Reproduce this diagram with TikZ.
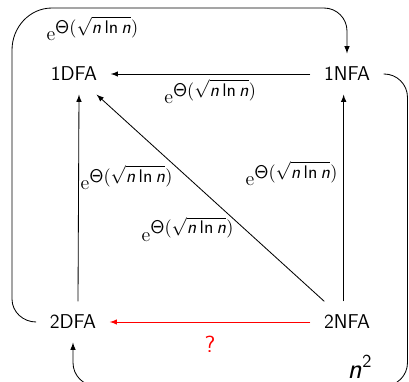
\documentclass[tikz,border=0pt]{standalone}
\DeclareMathAlphabet{\mathsfit}{OT1}{cmss}{m}{sl}
\newcommand{\expbound}{$\mathrm{e}^{\mbox{\fontsize{11}{13}\selectfont$\mathsf{\Theta}(\sqrt{\mathsfit{n}\,\mathsf{ln}\,\mathsfit{n}})$}}$}

\begin{document}
\begin{tikzpicture}[
  x=0.6pt, y=-0.6pt,
  every node/.style={inner sep=1pt, font=\sffamily\fontsize{12}{14}\selectfont},
  auto/.style={inner sep=8pt},
  arrow/.style={draw, line width=0.5pt, -latex},
  redarrow/.style={draw, line width=0.5pt, -latex, red},
  loop/.style={draw, line width=0.5pt, rounded corners=14pt}]

  \useasboundingbox (0,0) rectangle (409,382);

  % ---- automata -----------------------------------------------------------
  \node[auto] (dfa1) at (74,74)  {1DFA};
  \node[auto] (nfa1) at (347,74) {1NFA};
  \node[auto] (dfa2) at (73,322) {2DFA};
  \node[auto] (nfa2) at (347,322) {2NFA};

  % outer frame (the bottom line runs just under the page)
  \coordinate (east)   at (407.5,0);
  \coordinate (bottom) at (0,386);
  % bends of the upper loop
  \coordinate (bendA) at (12,299);
  \coordinate (bendB) at (12,50);
  \coordinate (bendC) at (52,8);
  \coordinate (bendD) at (324,8);
  \coordinate (bendE) at (347,31);

  % ---- simulations --------------------------------------------------------
  \draw[arrow] (nfa1) -- node[below=2pt] {\expbound} (dfa1);
  \draw[arrow] ([xshift=3pt]dfa2.north) -- node[pos=0.6, right=0pt] {\expbound} ([xshift=3pt]dfa1.south);
  \draw[arrow] ([xshift=-2pt]nfa2.north) -- node[pos=0.62, left=2pt] {\expbound} ([xshift=-2pt]nfa1.south);
  \draw[arrow] (nfa2) -- node[pos=0.35, left=5pt] {\expbound} (dfa1);
  \draw[redarrow] (nfa2) -- node[below=7pt, red, font=\sffamily\fontsize{14}{16}\selectfont] {?} (dfa2);

  % around the outside
  \draw[arrow] (dfa2.west) to[out=180, in=270] (bendA) -- (bendB)
    to[out=90, in=180] (bendC)
    -- node[pos=0.15, below=4pt] {\expbound} (bendD)
    to[out=0, in=90] (bendE) -- (nfa1.north);
  \draw[loop, -latex] (nfa1.east) -- (nfa1.east -| east) -- (east |- bottom)
    -- (dfa2.south |- bottom) -- (dfa2.south);
  \node[anchor=base, font=\fontsize{16}{18}\selectfont] (square) at (360,378) {$\mathsfit{n}^{\mathsf{2}}$};
\end{tikzpicture}
\end{document}
